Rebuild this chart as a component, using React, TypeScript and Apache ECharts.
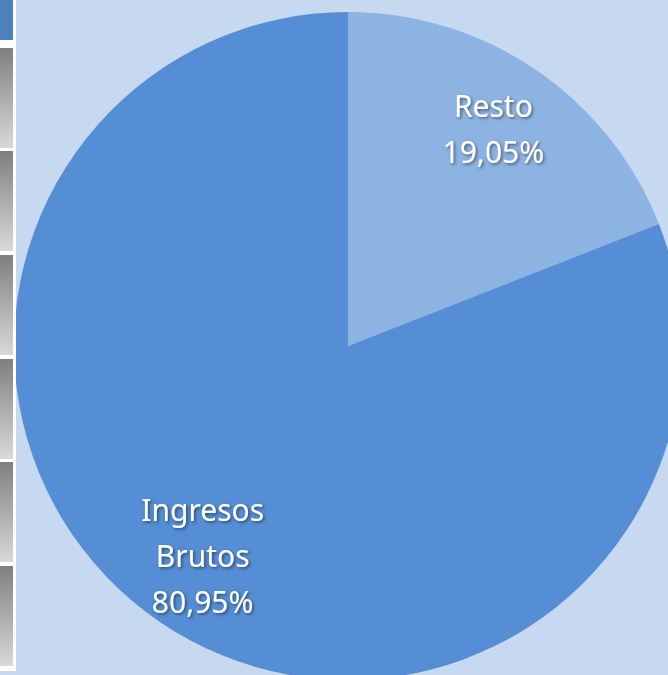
import React, { useEffect, useRef } from "react";
import * as echarts from "echarts";

const categories = ["Resto", "Ingresos Brutos"];
const values = [19.05, 80.95];
const colors = ["#8db3e2", "#558ed5"];

const W = 668;
const H = 675;
const CX = 348;
const CY = 346;
const R = 334;

export default function App() {
  const ref = useRef<HTMLDivElement>(null);
  useEffect(() => {
    document.body.style.margin = "0";
    if (!ref.current) return;
    const chart = echarts.init(ref.current, undefined, { renderer: "svg" });

    const data = categories.map((name, i) => ({
      name,
      value: values[i],
      itemStyle: { color: colors[i] },
    }));

    const stripBoxes: any[] = [];
    stripBoxes.push({
      type: "rect",
      shape: { x: 0, y: 0, width: 13, height: 40 },
      style: { fill: "#4f81bd" },
      z: 10,
    });
    const tops = [48, 151, 255, 359, 462, 566];
    tops.forEach((t) => {
      stripBoxes.push({
        type: "rect",
        shape: { x: 0, y: t, width: 13, height: 100 },
        style: {
          fill: new echarts.graphic.LinearGradient(0, 0, 0, 1, [
            { offset: 0, color: "#7f7f7f" },
            { offset: 1, color: "#d9d9d9" },
          ]),
        },
        z: 10,
      });
    });

    chart.setOption({
      animation: false,
      backgroundColor: "#c6d9f1",
      graphic: [
        {
          type: "rect",
          shape: { x: 0, y: 0, width: 16, height: 671 },
          style: { fill: "#ffffff" },
          z: 9,
        },
        ...stripBoxes,
      ],
      series: [
        {
          type: "pie",
          center: [CX, CY],
          radius: [0, R],
          startAngle: 90,
          clockwise: true,
          silent: true,
          label: { show: false },
          labelLine: { show: false },
          itemStyle: { borderWidth: 0 },
          data,
        },
        {
          type: "pie",
          center: [CX, CY],
          radius: [176, R],
          startAngle: 90,
          clockwise: true,
          silent: true,
          itemStyle: { color: "rgba(0,0,0,0)", borderWidth: 0 },
          labelLine: { show: false },
          labelLayout: { dy: -4 },
          label: {
            show: true,
            position: "inside",
            color: "#ffffff",
            fontFamily: "Noto Sans",
            fontSize: 30,
            lineHeight: 46,
            textShadowColor: "rgba(0,0,0,0.5)",
            textShadowBlur: 3,
            textShadowOffsetX: 1.5,
            textShadowOffsetY: 1.5,
            formatter: (p: any) =>
              p.name.replace(" ", "\n") +
              "\n" +
              Number(p.value).toFixed(2).replace(".", ",") +
              "%",
          },
          data: categories.map((name, i) => ({ name, value: values[i] })),
        },
      ],
    });
    return () => chart.dispose();
  }, []);
  return <div ref={ref} style={{ width: W, height: H }} />;
}
